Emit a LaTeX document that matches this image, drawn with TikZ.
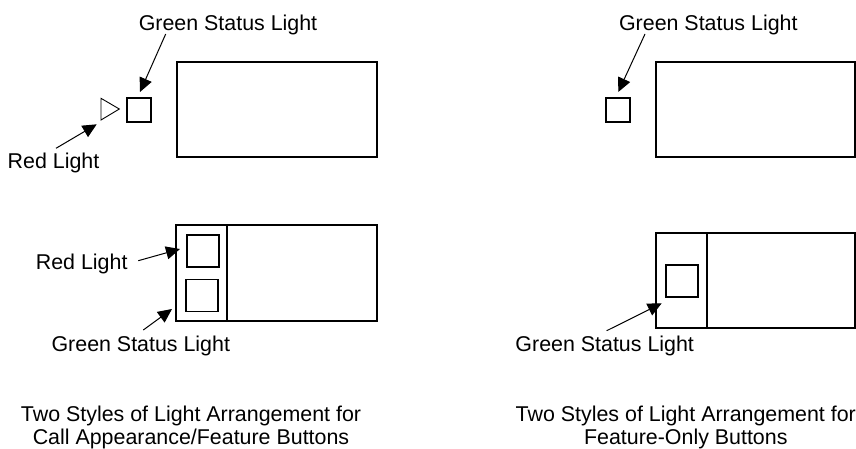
\documentclass[tikz,border=0pt]{standalone}
\usepackage{fontspec}
\setmainfont{Liberation Sans}
\usetikzlibrary{arrows.meta}
\begin{document}
\begin{tikzpicture}[x=1pt,y=-1pt,
  lbl/.style={anchor=base,inner sep=0pt,font=\fontsize{21.4}{25}\selectfont},
  btn/.style={draw,line width=2pt},
  lamp/.style={draw,line width=1.8pt},
  ptr/.style={line width=1pt,-{Triangle[length=14pt,width=13pt]}}]
\useasboundingbox (0,0) rectangle (856,449);
% ---- top left
\draw[btn] (177,62) rectangle (376.5,157.3);
\node[lamp,minimum size=24pt,inner sep=0pt] (sq1) at (139,110) {};
\draw[line width=0.9pt] (101,98.3) -- (101,120) -- (119.3,109) -- cycle;
\node[lbl] (g1) at (228,31) {Green Status Light};
\node[lbl] (r1) at (53.5,168.3) {Red Light};
\coordinate (g1s) at (165.7,34);
\coordinate (g1e) at (140,92);
\coordinate (r1s) at (56,148.3);
\coordinate (r1e) at (96.7,124.3);
\draw[ptr] (g1s) -- (g1e);
\draw[ptr] (r1s) -- (r1e);
% ---- bottom left
\draw[btn] (176,225) rectangle (376.5,320.7);
\draw[btn] (226.7,225) -- (226.7,320.7);
\node[lamp,minimum size=32pt,inner sep=0pt] (sq2) at (203,251) {};
\node[lamp,minimum size=32pt,inner sep=0pt] (sq3) at (202,295.5) {};
\node[lbl] (r2) at (81.7,269) {Red Light};
\node[lbl] (g2) at (140.8,351) {Green Status Light};
\coordinate (r2s) at (138.3,260.7);
\coordinate (r2e) at (180,249);
\coordinate (g2s) at (143.3,330);
\coordinate (g2e) at (172,309);
\draw[ptr] (r2s) -- (r2e);
\draw[ptr] (g2s) -- (g2e);
\node[lbl] (c1) at (191,421.5) {Two Styles of Light Arrangement for};
\node[lbl] (c2) at (191,444.3) {Call Appearance/Feature Buttons};
% ---- top right
\draw[btn] (655.7,62) rectangle (855,157.3);
\node[lamp,minimum size=24pt,inner sep=0pt] (sq4) at (618,110) {};
\node[lbl] (g3) at (708.3,31) {Green Status Light};
\coordinate (g3s) at (645,34);
\coordinate (g3e) at (618.3,92);
\draw[ptr] (g3s) -- (g3e);
% ---- bottom right
\draw[btn] (655.7,232.7) rectangle (855,328.3);
\draw[btn] (706.7,232.7) -- (706.7,328.3);
\node[lamp,minimum size=32pt,inner sep=0pt] (sq5) at (682,281) {};
\node[lbl] (g4) at (604.7,351) {Green Status Light};
\coordinate (g4s) at (606.7,330.7);
\coordinate (g4e) at (661.7,303.3);
\draw[ptr] (g4s) -- (g4e);
\node[lbl] (c3) at (685.8,421.5) {Two Styles of Light Arrangement for};
\node[lbl] (c4) at (685.8,444.3) {Feature-Only Buttons};
\end{tikzpicture}
\end{document}
